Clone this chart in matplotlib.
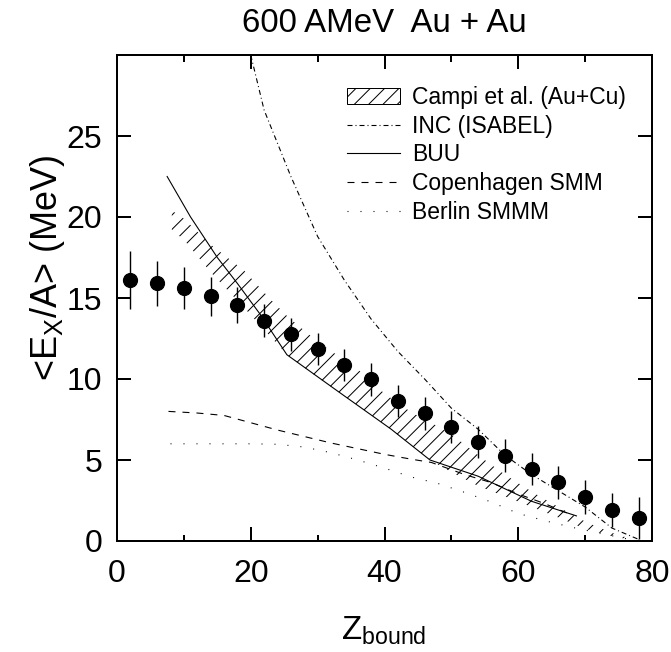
import matplotlib
matplotlib.use('Agg')
import matplotlib.pyplot as plt
from matplotlib.patches import Patch
from matplotlib.lines import Line2D

DPI = 86
W, H = 671, 652


def pt(px):
    return px * 72.0 / DPI


plt.rcParams['font.family'] = ['Liberation Sans', 'DejaVu Sans']
plt.rcParams['mathtext.fontset'] = 'custom'
plt.rcParams['mathtext.rm'] = 'Liberation Sans'
plt.rcParams['mathtext.it'] = 'Liberation Sans:italic'
plt.rcParams['hatch.linewidth'] = pt(1.0)
plt.rcParams['lines.scale_dashes'] = False

# ---------------- data ----------------
zbound = [2, 6, 10, 14, 18, 22, 26, 30, 34, 38, 42, 46, 50, 54, 58, 62, 66, 70, 74, 78]
ex_per_a = [16.1, 15.9, 15.6, 15.1, 14.55, 13.6, 12.75, 11.85, 10.86, 9.98,
            8.64, 7.88, 7.02, 6.11, 5.27, 4.43, 3.62, 2.73, 1.91, 1.40]
ex_err = [1.8, 1.4, 1.3, 1.2, 1.1, 1.0, 1.0, 1.0, 1.0, 1.0,
          1.0, 1.0, 1.0, 1.0, 1.0, 1.0, 1.0, 1.05, 1.05, 1.3]

campi_z = [8.2, 10, 14, 19, 23, 25.4, 30, 36, 40, 44, 47, 50, 54, 58, 62, 66, 70, 74, 77.5]
campi_hi = [20.4, 19.9, 18.3, 16.7, 14.9, 13.9, 12.3, 10.6, 9.1, 7.95, 7.3, 6.6, 5.3,
            4.1, 3.05, 2.1, 1.2, 0.5, 0.05]
campi_lo = [19.2, 18.6, 16.6, 14.4, 12.6, 11.5, 10.1, 8.37, 7.2, 5.9, 4.95, 4.25, 3.4,
            2.75, 2.1, 1.45, 0.75, 0.3, 0.02]

inc_z = [20.0, 22, 26, 30, 34, 38, 42, 46, 50, 54, 58, 62, 66, 70, 74, 78]
inc_e = [30.0, 26.6, 22.5, 18.8, 16.1, 13.7, 11.7, 10.0, 8.2, 6.9, 5.3, 4.1, 3.1, 2.1, 0.8, 0.1]

buu_z = [7.5, 11, 15, 18, 21.4, 25.4, 33, 41, 46.8, 54, 62, 68.7]
buu_e = [22.5, 20.0, 17.5, 15.9, 14.0, 11.5, 9.25, 6.9, 5.0, 4.0, 2.45, 1.55]

cop_z = [7.7, 12, 16, 20, 24, 28, 32, 36, 40, 44, 47, 52, 56, 60, 64, 68]
cop_e = [8.0, 7.9, 7.75, 7.3, 6.85, 6.45, 6.05, 5.7, 5.35, 5.05, 4.85, 4.1, 3.6, 2.9, 2.3, 1.6]

ber_z = [8, 12, 16, 20, 24, 28, 32, 36, 40, 44, 48, 52, 56, 60, 64, 68, 72, 76, 78]
ber_e = [6.0, 6.0, 6.0, 6.0, 5.97, 5.8, 5.45, 5.0, 4.5, 3.95, 3.55, 3.0, 2.4, 1.7,
         1.25, 0.85, 0.5, 0.15, 0.05]

legend_labels = ['Campi et al. (Au+Cu)', 'INC (ISABEL)', 'BUU', 'Copenhagen SMM', 'Berlin SMMM']
x_ticks = [0, 20, 40, 60, 80]
x_minor = [10, 30, 50, 70]
y_ticks = [0, 5, 10, 15, 20, 25]

# ---------------- figure ----------------
fig = plt.figure(figsize=(W / DPI, H / DPI), dpi=DPI)
ax = fig.add_axes([117 / W, 1 - 541 / H, (652 - 117) / W, (541 - 55) / H])

lw = pt(1.1)
ax.fill_between(campi_z, campi_lo, campi_hi, facecolor='none', edgecolor='black',
                linewidth=0, hatch='//', zorder=1)
inc_ls = (0, (pt(5), pt(3), pt(1), pt(3)))
cop_ls = (0, (pt(7), pt(7)))
ber_ls = (0, (pt(1), pt(12)))
ax.plot(inc_z, inc_e, color='black', lw=lw, linestyle=inc_ls, zorder=2)
ax.plot(buu_z, buu_e, color='black', lw=lw, linestyle='-', zorder=2)
ax.plot(cop_z, cop_e, color='black', lw=lw, linestyle=cop_ls, zorder=2)
ax.plot(ber_z, ber_e, color='black', lw=lw, linestyle=ber_ls, zorder=2)

ax.errorbar(zbound, ex_per_a, yerr=ex_err, fmt='o', color='black', ms=pt(14),
            elinewidth=pt(1.4), capsize=0, zorder=3)

ax.set_xlim(0, 80)
ax.set_ylim(0, 30)
ax.set_xticks(x_ticks)
ax.set_xticks(x_minor, minor=True)
ax.set_yticks(y_ticks)
ax.tick_params(which='both', direction='in', top=True, right=True, width=pt(2),
               labelsize=pt(32))
ax.tick_params(which='major', length=pt(14))
ax.tick_params(which='minor', length=pt(6.5))
ax.tick_params(axis='x', pad=pt(18))
ax.tick_params(axis='y', pad=pt(15))
for s in ax.spines.values():
    s.set_linewidth(pt(2))

handles = [Patch(facecolor='white', edgecolor='black', hatch='//', lw=pt(1)),
           Line2D([], [], color='black', lw=lw, linestyle=inc_ls),
           Line2D([], [], color='black', lw=lw, linestyle='-'),
           Line2D([], [], color='black', lw=lw, linestyle=cop_ls),
           Line2D([], [], color='black', lw=lw, linestyle=ber_ls)]
leg_fs = 22.9
ax.legend(handles, legend_labels, loc='upper left',
          bbox_to_anchor=(347 / W, 1 - 86 / H), bbox_transform=fig.transFigure,
          frameon=False, fontsize=pt(leg_fs), borderpad=0, borderaxespad=0,
          handlelength=53 / leg_fs, handleheight=17 / leg_fs,
          handletextpad=11.7 / leg_fs, labelspacing=0.25)

fig.text(384.5 / W, 1 - 32 / H, '600 AMeV  Au + Au', ha='center', va='baseline',
         fontsize=pt(33))
fig.text(384 / W, 1 - 640 / H, r'Z$_\mathregular{bound}$', ha='center', va='baseline',
         fontsize=pt(33))
fig.text(57 / W, 1 - 268 / H, r'<E$_\mathregular{X}$/A> (MeV)', rotation=90,
         rotation_mode='anchor', ha='center', va='baseline', fontsize=pt(36))

fig.savefig('out.png', dpi=DPI)
